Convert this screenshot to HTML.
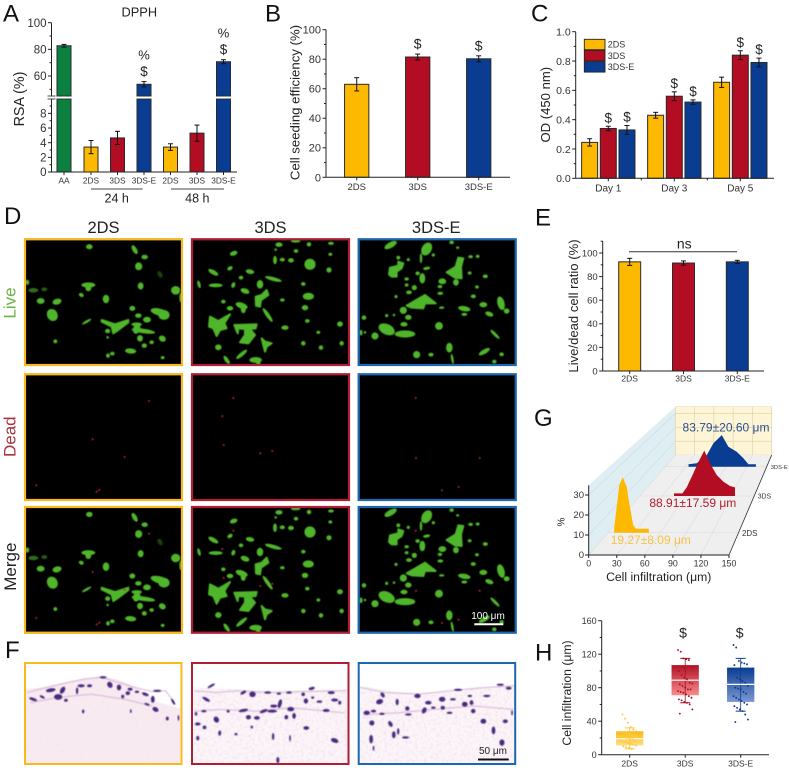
<!DOCTYPE html>
<html lang="en">
<head>
<meta charset="utf-8">
<title>Cell scaffold characterization figure</title>
<style>
html,body{margin:0;padding:0;background:#fff;}
svg{display:block;font-family:"Liberation Sans",Arial,sans-serif;}
text{fill:#222;}
</style>
</head>
<body>
<svg id="root" xmlns="http://www.w3.org/2000/svg" width="789" height="770" viewBox="0 0 789 770">
  <defs>
    <filter id="soft" x="-5%" y="-5%" width="110%" height="110%"><feGaussianBlur stdDeviation="0.45"/></filter>
    <filter id="softLive" x="-5%" y="-5%" width="110%" height="110%"><feGaussianBlur stdDeviation="1.5"/></filter>
    <filter id="softF" x="-5%" y="-5%" width="110%" height="110%"><feGaussianBlur stdDeviation="1.5"/></filter>
    <filter id="speckle" x="0" y="0" width="100%" height="100%">
      <feTurbulence type="fractalNoise" baseFrequency="0.11" numOctaves="2" seed="4" result="n"/>
      <feColorMatrix in="n" type="matrix" values="0 0 0 0 0.92  0 0 0 0 0.80  0 0 0 0 0.88  3.2 0 0 0 -1.45" result="c"/>
      <feComposite in="c" in2="SourceGraphic" operator="in"/>
    </filter>
    <linearGradient id="gradY" x1="0" y1="0" x2="0" y2="1"><stop offset="0" stop-color="#fbb90f"/><stop offset="1" stop-color="#fdde85"/></linearGradient>
    <linearGradient id="gradR" x1="0" y1="0" x2="0" y2="1"><stop offset="0" stop-color="#b01226"/><stop offset="1" stop-color="#f98a8a"/></linearGradient>
    <linearGradient id="gradB" x1="0" y1="0" x2="0" y2="1"><stop offset="0" stop-color="#0a3d91"/><stop offset="1" stop-color="#7c98d2"/></linearGradient>
  </defs>
  <g id="pA"></g>
  <g id="pB"></g>
  <g id="pC"></g>
  <g id="pD"></g>
  <g id="pE"></g>
  <g id="pF"></g>
  <g id="pG"></g>
  <g id="pH"></g>
  <g id="letters"></g>
</svg>
<script>
/* ---------- chart data ---------- */
const aCategories = ['AA','2DS','3DS','3DS-E','2DS','3DS','3DS-E'];
const aValues = [82.7,3.4,4.65,53.8,3.4,5.3,70.7];
const aErrors = [1,0.9,0.9,2,0.45,1.1,1.5];
const aTicks = [0,2,4,6,8,60,80,100];
const aMinorTicks = [1,3,5,7,9,50,70,90];

const bCategories = ['2DS','3DS','3DS-E'];
const bValues = [63,81.5,80.3];
const bErrors = [4.5,2,2];
const bTicks = [0,20,40,60,80,100];
const bMinorTicks = [10,30,50,70,90];

const cCategories = ['Day 1','Day 3','Day 5'];
const cSeries = ['2DS','3DS','3DS-E'];
const c2DS = [0.245,0.43,0.655];
const c3DS = [0.34,0.56,0.84];
const c3DSE = [0.33,0.52,0.79];
const c2DSErr = [0.025,0.02,0.035];
const c3DSErr = [0.015,0.03,0.03];
const c3DSEErr = [0.03,0.015,0.03];
const cTicks = [0,0.2,0.4,0.6,0.8,1];
const cMinorTicks = [0.1,0.3,0.5,0.7,0.9];

const eCategories = ['2DS','3DS','3DS-E'];
const eValues = [92.5,91.5,92.5];
const eErrors = [3,1.8,1.3];
const eTicks = [0,20,40,60,80,100];
const eMinorTicks = [10,30,50,70,90,110];

const gXTicks = [0,30,60,90,120,150];
const gZTicks = [0,10,20,30];
const g2DSBins = [7,7,13,17,21.5,24.5,29,32,47,47];
const g2DSPct = [0,2,23.8,27.7,23,14.7,3.8,2,2,0];
const g3DSBins = [44.8,44.8,55.8,61.5,70.2,76.8,84.6,92,100.8,109.5,118.3,124.8,124.8];
const g3DSPct = [0,1.3,1.3,4.3,11.3,17,22.7,16.3,10.5,7.2,5,4.3,0];
const g3DSEBins = [34.4,34.4,46.7,61.5,71.3,83.6,93.4,105.7,115.5,122.9,134,134];
const g3DSEPct = [0,1.2,1.7,5.8,11.7,15.8,10,7.5,4.2,1.2,1.2,0];

const hCategories = ['2DS','3DS','3DS-E'];
const hQ1 = [11,71,63];
const hMedian = [19,89,84];
const hQ3 = [28,107,104];
const hLow = [7,62,52];
const hHigh = [32,115,115];
const hPoints2DS = [48,43,38,33,30,28,27,26,25,24,23,22,21,20,19,18,17,16,15,14,13,12,11,10,9,8,7];
const hPoints3DS = [125,123,115,114,113,105,100,95,92,90,86,85,84,82,80,78,78,76,75,74,72,70,68,66,65,63,62,60,54,49];
const hPoints3DSE = [131,128,112,110,109,108,107,92,90,88,86,82,80,79,78,75,73,70,68,66,64,62,60,58,56,54,52,48,42,39];
const hTicks = [0,40,80,120,160];
const hMinorTicks = [20,60,100,140];

/* ---------- image sketches (x, y, rx, ry, rotation, opacity) ---------- */
const live2DS = [[268,125,9,7],[404,134,6,14,-30],[434,156,9,6],[416,184,10,11],[422,243,8,10],[527,256,13,12],[542,278,3,14],[82,232,5,7],[100,256,14,6,0,.6],[133,253,8,5,0,.5],[122,288,11,8],[171,290,13,8,-15],[157,330,15,18,-30],[244,270,7,5,30],[265,240,20,7],[265,250,8,8],[318,282,9,12],[260,350,15,3,-30],[397,310,8,7],[415,332,9,6],[441,344,11,8],[480,322,28,10,15],[492,330,16,14],[323,378,7,6],[410,358,15,5],[430,378,35,6,8],[410,372,10,14,20],[420,400,8,9],[487,401,10,8,30],[433,422,7,6],[455,412,6,5],[392,438,16,7,5],[337,446,6,5],[324,452,5,6],[488,458,5,4],[166,409,5,5],[323,397,3,3],[480,208,6,10,-30,.35]];
const live2DSShapes = ['305,345 345,358 385,345 385,352 355,375 340,385 335,365 305,350'];
const live3DS = [[146,55,11,6,-20],[85,112,16,6,30],[135,100,8,5,-30],[195,110,12,6,10],[168,128,6,5],[42,148,4,11,-15],[92,151,20,5],[145,150,5,8,20],[225,148,9,12],[265,132,25,5,15],[180,168,13,7,20],[115,200,6,5],[135,220,9,6],[170,212,18,8,20],[175,222,7,12],[248,240,5,24,-35],[100,337,9,8],[170,358,20,5,-40],[125,375,5,14,-35],[212,375,18,8],[220,383,6,8],[300,278,10,6],[355,325,6,6],[408,338,6,6],[470,325,6,6],[465,267,8,7],[400,292,5,4],[367,258,6,5],[360,218,9,7],[370,184,16,10],[355,147,6,5],[292,195,6,4],[375,88,16,16],[270,75,5,12],[292,74,7,5],[318,76,8,6],[282,29,10,6],[333,48,6,5],[332,18,14,4],[372,28,6,6],[432,105,7,7],[436,58,5,4],[438,25,8,4],[272,44,3,3]];
const live3DSShapes = ['245,165 250,180 228,195 225,215 213,212 212,185 230,180','75,245 100,258 135,238 118,265 125,280 105,285 95,303 85,280 72,275','148,270 215,268 212,280 195,282 210,300 190,325 165,322 180,300 180,282 160,280 158,295','230,310 240,320 260,325 245,335 240,350 235,330'];
const live3DSE = [[617,30,20,8,-30],[725,42,14,20,30],[708,70,3,14],[800,22,6,5],[818,38,4,3],[640,68,5,5],[670,74,4,4],[745,60,4,4],[857,65,6,4],[878,64,5,4],[725,100,10,4,-10],[712,130,8,15],[813,142,8,9],[772,139,11,8],[765,155,6,4],[766,175,8,4],[698,115,6,5],[854,114,5,4],[901,124,7,5],[665,132,6,4],[665,150,5,4],[688,158,7,7],[672,172,8,5],[633,185,4,4],[876,156,5,4],[865,184,7,5],[895,209,11,7],[948,205,10,20,-15],[965,228,8,7],[838,221,18,7,10],[838,238,8,4],[913,237,12,6,20],[655,226,10,10,30],[670,247,9,7],[537,248,6,6],[605,242,4,4],[627,240,3,3],[770,218,7,3],[657,268,10,6],[762,273,11,11],[605,283,25,15,25],[660,297,30,10],[570,303,10,10],[528,293,4,8],[540,292,3,3],[930,298,18,4,45],[898,350,18,6,-30],[950,358,6,5],[695,359,10,10],[738,359,7,5],[793,338,9,14],[802,372,3,15,-10],[928,380,6,5]];
const live3DSEShapes = ['612,118 615,98 640,92 640,80 655,85 650,100 635,110 635,125 620,125','785,112 812,95 820,68 835,70 828,95 830,130 810,128','665,212 720,180 752,205 720,205 715,220 680,218'];
const dead2DS = [[149,36],[92.7,74.3],[124.7,92],[36.3,120.3],[99.3,125],[96.7,126.7]];
const dead3DS = [[233.3,33],[222.3,51.3],[260.3,88.3],[272.3,86],[223.7,80]];
const dead3DSE = [[415.7,33],[416,93],[479.7,93],[442,125.3],[458.7,122]];
const nuclei2DS = [[98,205,12,4,20],[125,198,8,3,30],[150,178,14,5,-10],[185,178,6,11,30],[172,198,12,8],[195,208,5,4],[240,165,10,4],[265,165,7,4],[305,140,10,3],[325,162,7,9,-30],[352,170,6,8],[385,175,7,4],[378,187,6,5],[405,183,6,3],[430,190,10,4,20],[452,205,5,10],[465,180,12,3],[435,220,8,3,20],[460,235,9,6,30],[512,212,3,10,-30],[363,197,4,5],[246,241,3,5],[387,240,2,5],[495,262,4,5],[528,260,2,8],[228,180,3,10]];
const nuclei3DS = [[610,205,12,4,30],[625,165,3,12,60],[720,185,4,9,60],[747,190,9,8],[792,185,10,3],[825,188,6,3],[855,185,8,3],[922,173,9,4,-15],[897,190,5,5],[980,185,10,4],[905,210,6,7],[925,200,4,3],[945,212,8,3],[990,207,10,4],[1005,215,4,5],[828,218,5,13,15],[805,240,14,4],[780,240,12,4,-20],[810,225,10,4],[720,238,14,4,-10],[860,234,10,6],[870,254,5,8],[965,238,10,4],[640,265,7,9,-30],[735,258,7,6],[760,260,8,5],[847,258,5,6],[603,240,7,3],[675,240,4,4],[580,248,3,5],[585,278,8,4],[605,288,5,5],[650,305,4,7],[585,320,4,6],[698,308,4,3],[745,287,3,4],[906,290,8,5],[808,315,3,10],[858,320,2,9],[990,327,11,6,20],[822,385,4,9]];
const nuclei3DSE = [[1123,212,10,7,-20],[1132,192,5,8,-30],[1175,213,4,9],[1235,195,9,6],[1267,215,9,5],[1255,238,6,9,30],[1205,232,6,6],[1208,250,9,3],[1282,230,6,3],[1308,205,9,7],[1340,205,8,3],[1310,230,6,5],[1375,220,8,7],[1395,215,5,7],[1400,240,6,6],[1330,245,8,3],[1390,195,6,3],[1430,270,8,7],[1495,270,7,5],[1460,297,5,11],[1485,333,7,9],[1085,245,9,6],[1105,240,7,4],[1130,248,8,3],[1100,275,7,7],[1155,278,5,9,-30],[1178,300,3,9],[1165,310,5,10],[1200,318,10,3],[1098,323,5,12],[1105,350,2,7],[1440,195,10,3],[1480,162,10,3],[1505,172,8,4],[1355,177,12,3],[1515,245,2,7]];

/* ---------- helpers ---------- */
const NS = 'http://www.w3.org/2000/svg';
const YEL = '#fdb900', RED = '#b20d22', BLU = '#0a3d91', GRN = '#0b8040';
const FRAME = ['#fbb81b', '#b11e33', '#1b68b0'];
const svgEl = document.getElementById('root');
function mk(parent, tag, attrs) {
  const el = document.createElementNS(NS, tag);
  for (const k in attrs) el.setAttribute(k, attrs[k]);
  parent.appendChild(el);
  return el;
}
function tag(el, name) {
  
  
  return el;
}
function label(parent, x, y, str, size, anchor, name, fill, rot) {
  const t = mk(parent, 'text', {x: x, y: y, 'font-size': size, 'text-anchor': anchor || 'middle'});
  if (fill) t.setAttribute('style', 'fill:' + fill);
  if (rot) t.setAttribute('transform', 'rotate(' + rot + ' ' + x + ' ' + y + ')');
  t.textContent = str;
  tag(t, name);
  return t;
}
function line(parent, x1, y1, x2, y2, name, color, w) {
  const l = mk(parent, 'line', {x1: x1, y1: y1, x2: x2, y2: y2, stroke: color || '#222', 'stroke-width': w || 1});
  tag(l, name);
  return l;
}
function yAxis(g, x, yTop, yBase, scale, ticks, minor, size, fmt) {
  line(g, x, yTop, x, yBase, 'y-axis-line');
  ticks.forEach(v => {
    line(g, x - 3.5, scale(v), x, scale(v), 'y-axis-tick');
    label(g, x - 5, scale(v) + size * 0.36, fmt ? fmt(v) : String(v), size, 'end', 'y-tick-label', '#333');
  });
  minor.forEach(v => line(g, x - 2, scale(v), x, scale(v), 'y-axis-minor-tick'));
}
function xAxis(g, xStart, xEnd, y, centers, cats, size, labelY) {
  line(g, xStart, y, xEnd, y, 'x-axis-line');
  centers.forEach((c, i) => {
    line(g, c, y, c, y + 3, 'x-axis-tick');
    label(g, c, labelY, cats[i], size, 'middle', 'x-tick-label', '#333');
  });
}
function bar(g, cx, w, v, err, col, y, yBase, name) {
  const top = y(v);
  const r = mk(g, 'rect', {x: cx - w / 2, y: top, width: w, height: yBase - top, fill: col, stroke: '#2a2a2a', 'stroke-width': 1});
  tag(r, name);
  const a = y(v + err), b = y(v - err);
  line(g, cx, a, cx, b, name + '-error-bar', '#111', 1);
  line(g, cx - 2.5, a, cx + 2.5, a, name + '-error-cap', '#111', 1);
  line(g, cx - 2.5, b, cx + 2.5, b, name + '-error-cap', '#111', 1);
}

/* ---------- panel A ---------- */
const pA = document.getElementById('pA');
const aY = v => v <= 10 ? 172 - v * 7.33 : 76 - (v - 60) * 1.333;
const aX = i => i === 0 ? 64 : 91 + (i - 1) * 26.5;
const aColors = [GRN, YEL, RED, BLU, YEL, RED, BLU];
label(pA, 139.3, 16.7, 'DPPH', 12.8, 'middle', 'chart-title');
label(pA, 24, 99, 'RSA (%)', 14.3, 'middle', 'y-axis-title', '#222', -90);
aValues.forEach((v, i) => bar(pA, aX(i), 14, v, aErrors[i], aColors[i], aY, 172, 'bar-' + aCategories[i].toLowerCase()));
yAxis(pA, 51.5, 22.7, 172, aY, aTicks, aMinorTicks, 11.5);
const aBreak = mk(pA, 'rect', {x: 46, y: 96.4, width: 186, height: 2.4, fill: '#fff'});
tag(aBreak, 'axis-break-gap');
[96, 99].forEach(b => line(pA, 47.5, b, 55.5, b, 'axis-break-mark', '#222', 0.8));
[0, 3, 6].forEach(i => {
  line(pA, aX(i) - 7.5, 96, aX(i) + 7.5, 96, 'bar-break-mark', '#222', 0.8);
  line(pA, aX(i) - 7.5, 99, aX(i) + 7.5, 99, 'bar-break-mark', '#222', 0.8);
});
xAxis(pA, 51.5, 237, 172, aValues.map((v, i) => aX(i)), aCategories, 8.3, 183.3);
line(pA, 91, 189, 142.7, 189, 'group-line-24h', '#444');
line(pA, 171, 189, 224, 189, 'group-line-48h', '#444');
label(pA, 116.7, 202.7, '24 h', 12.5, 'middle', 'group-label-24h');
label(pA, 197.3, 202.7, '48 h', 12.5, 'middle', 'group-label-48h');
[3, 6].forEach(i => {
  const top = aY(aValues[i] + aErrors[i]);
  label(pA, aX(i), top - 5.5, '$', 13.5, 'middle', 'significance-dollar');
  label(pA, aX(i), top - 22, '%', 13, 'middle', 'significance-percent');
});

/* ---------- panel B ---------- */
const pB = document.getElementById('pB');
const bY = v => 177.3 - v * 1.476;
const bX = i => 356.7 + i * 61;
const barColors = [YEL, RED, BLU];
label(pB, 299.3, 102.5, 'Cell seeding efficiency (%)', 13.2, 'middle', 'y-axis-title', '#222', -90);
bValues.forEach((v, i) => bar(pB, bX(i), 24.3, v, bErrors[i], barColors[i], bY, 177.3, 'bar-' + bCategories[i].toLowerCase()));
yAxis(pB, 326, 29.7, 177.3, bY, bTicks, bMinorTicks, 11);
xAxis(pB, 326, 510, 177.3, bValues.map((v, i) => bX(i)), bCategories, 9.5, 190);
[1, 2].forEach(i => label(pB, bX(i), bY(bValues[i] + bErrors[i]) - 5.5, '$', 14, 'middle', 'significance-dollar'));

/* ---------- panel C ---------- */
const pC = document.getElementById('pC');
const cY = v => 178.3 - v * 146.6;
const cGroup = i => 608.3 + i * 66;
const cOff = s => (s - 1) * 18.67;
const cVals = [c2DS, c3DS, c3DSE];
const cErrs = [c2DSErr, c3DSErr, c3DSEErr];
label(pC, 550, 104.7, 'OD (450 nm)', 13.1, 'middle', 'y-axis-title', '#222', -90);
cVals.forEach((vals, s) => vals.forEach((v, i) => {
  bar(pC, cGroup(i) + cOff(s), 16, v, cErrs[s][i], barColors[s], cY, 178.3, 'bar-' + cSeries[s].toLowerCase() + '-day-' + (i * 2 + 1));
  if (s > 0) label(pC, cGroup(i) + cOff(s), cY(v + cErrs[s][i]) - 4, '$', 13.5, 'middle', 'significance-dollar');
}));
yAxis(pC, 575.7, 31.7, 178.3, cY, cTicks, cMinorTicks, 10.5, v => v.toFixed(1));
xAxis(pC, 575.7, 774, 178.3, cCategories.map((c, i) => cGroup(i)), cCategories, 10, 191.7);
[0, 1].forEach(i => line(pC, cGroup(i) + 33, 178.3, cGroup(i) + 33, 180.3, 'x-axis-minor-tick'));
cSeries.forEach((s, i) => {
  const sw = mk(pC, 'rect', {x: 584.3, y: 39.3 + i * 11.2, width: 20.7, height: 10.4, fill: barColors[i], stroke: '#222', 'stroke-width': 0.9});
  tag(sw, 'legend-swatch-' + s.toLowerCase());
  label(pC, 607.7, 47.5 + i * 11.3, s, 9, 'start', 'legend-entry-' + s.toLowerCase(), '#333');
});

/* ---------- panel D ---------- */
const pD = document.getElementById('pD');
const dCols = [24, 191, 357.7];
const dRows = [238.3, 373.3, 506];
const dW = 159, dH = 127.7;
const dNames = ['2DS', '3DS', '3DS-E'];
dNames.forEach((n, i) => label(pD, dCols[i] + dW / 2 - (i === 2 ? 1 : 0), 233, n, 16.5, 'middle', 'column-title-' + n.toLowerCase()));
label(pD, 15.6, 303, 'Live', 17, 'middle', 'row-label-live', '#6cb33f', -90);
label(pD, 15.6, 436.7, 'Dead', 17, 'middle', 'row-label-dead', '#a8323e', -90);
label(pD, 16, 566.7, 'Merge', 17, 'middle', 'row-label-merge', '#222', -90);
const liveSets = [[live2DS, live2DSShapes, 0, 205, 0], [live3DS, live3DSShapes, 185, 235, 0], [live3DSE, live3DSEShapes, 185, 235, 0]];
const deadSets = [dead2DS, dead3DS, dead3DSE];
function drawLive(group, set, dy) {
  const g = mk(group, 'g', {transform: 'translate(' + set[2] + ',' + (set[3] + dy) + ') scale(0.3333)', fill: '#4fb52c', filter: 'url(#softLive)'});
  tag(g, 'live-cells');
  set[0].forEach(b => {
    const e = mk(g, 'ellipse', {cx: b[0], cy: b[1], rx: b[2] + 0.8, ry: b[3] + 0.8, transform: 'rotate(' + (b[4] || 0) + ' ' + b[0] + ' ' + b[1] + ')', opacity: b[5] === undefined ? 1 : b[5]});
    tag(e, 'live-cell');
  });
  set[1].forEach(p => {
    const s = mk(g, 'polygon', {points: p, stroke: '#4fb52c', 'stroke-width': 6, 'stroke-linejoin': 'round'});
    tag(s, 'live-cell-cluster');
  });
}
function drawDead(group, pts, dy) {
  const g = mk(group, 'g', {fill: '#b5254a', filter: 'url(#soft)'});
  tag(g, 'dead-cells');
  pts.forEach(d => {
    const c = mk(g, 'circle', {cx: d[0], cy: d[1] + 365 + dy, r: 1});
    tag(c, 'dead-cell');
  });
}
dRows.forEach((ry, r) => dCols.forEach((cx, c) => {
  const cid = 'clipD' + r + c;
  const cp = mk(svgEl.querySelector('defs'), 'clipPath', {id: cid});
  mk(cp, 'rect', {x: cx, y: ry, width: dW, height: dH});
  const g = mk(pD, 'g', {'clip-path': 'url(#' + cid + ')'});
  tag(g, 'micrograph-' + ['live', 'dead', 'merge'][r] + '-' + dNames[c].toLowerCase());
  const bg = mk(g, 'rect', {x: cx, y: ry, width: dW, height: dH, fill: '#000'});
  tag(bg, 'micrograph-background');
  if (r === 0) drawLive(g, liveSets[c], 0);
  if (r === 1) drawDead(g, deadSets[c], 0);
  if (r === 2) { drawLive(g, liveSets[c], 267.7); drawDead(g, deadSets[c], 132.7); }
  const fr = mk(pD, 'rect', {x: cx + 1, y: ry + 1, width: dW - 2, height: dH - 2, fill: 'none', stroke: FRAME[c], 'stroke-width': 2.2});
  tag(fr, 'micrograph-frame');
}));
line(pD, 474.3, 624.3, 503.3, 624.3, 'scale-bar-100um', '#fff', 2);
label(pD, 488, 619, '100 μm', 10, 'middle', 'scale-bar-label-100um', '#fff');

/* ---------- panel E ---------- */
const pE = document.getElementById('pE');
const eY = v => 371 - v * 1.18;
const eX = i => 629.7 + i * 53.8;
label(pE, 578, 306, 'Live/dead cell ratio (%)', 13.1, 'middle', 'y-axis-title', '#222', -90);
eValues.forEach((v, i) => bar(pE, eX(i), 22, v, eErrors[i], barColors[i], eY, 371, 'bar-' + eCategories[i].toLowerCase()));
yAxis(pE, 602.7, 241, 371, eY, eTicks, eMinorTicks, 9.5);
xAxis(pE, 602.7, 764, 371, eValues.map((v, i) => eX(i)), eCategories, 8.5, 381.7);
line(pE, 629, 251.7, 737, 251.7, 'significance-line', '#333', 1);
label(pE, 684.3, 248.3, 'ns', 14, 'middle', 'significance-ns');

/* ---------- panel F ---------- */
const pF = document.getElementById('pF');
const fCols = [24, 191, 357.7];
const fY = 662, fH = 103, fW = 158.5;
const tissue = [
  '72,175 120,170 170,160 240,145 300,135 360,150 420,180 470,215 533,232 533,395 72,395',
  '573,170 700,175 800,180 900,178 1032,175 1032,395 573,395',
  '1062,165 1200,185 1300,185 1400,170 1528,162 1528,395 1062,395'];
const tissueFill = ['#f8ebf0', '#fbf5f8', '#fbf5f8'];
const strands = [
  '80,185 130,172 200,155 250,145 300,140 350,155 400,170 450,182 490,180 520,220',
  '575,180 640,185 700,180 800,185 900,182 1025,180',
  '1065,170 1140,185 1240,190 1330,180 1440,170 1525,165',
  '575,240 650,235 760,240 860,230 1020,245',
  '1075,250 1180,245 1280,235 1400,225 1520,235',
  '90,215 170,200 270,190 370,205 450,225'];
const nucleiSets = [nuclei2DS, nuclei3DS, nuclei3DSE];
const fGroup = mk(pF, 'g', {transform: 'translate(0,630) scale(0.338)'});
tag(fGroup, 'histology-contents');
tissue.forEach((p, i) => {
  const t = mk(fGroup, 'polygon', {points: p, fill: tissueFill[i]});
  tag(t, 'tissue-region');
  const sp = mk(fGroup, 'polygon', {points: p, fill: '#000', filter: 'url(#speckle)'});
  tag(sp, 'tissue-texture');
});
const fBlur = mk(fGroup, 'g', {filter: 'url(#softF)'});
tag(fBlur, 'histology-cells');
strands.forEach(p => {
  const s = mk(fBlur, 'polyline', {points: p, fill: 'none', stroke: '#d8b4d6', 'stroke-width': 3});
  tag(s, 'tissue-strand');
});
nucleiSets.forEach(set => set.forEach(n => {
  const e = mk(fBlur, 'ellipse', {cx: n[0], cy: n[1], rx: n[2] + 0.5, ry: n[3] + 0.5, fill: '#4a2c80', transform: 'rotate(' + (n[4] || 0) + ' ' + n[0] + ' ' + n[1] + ')'});
  tag(e, 'cell-nucleus');
}));
fCols.forEach((x, i) => {
  const fr = mk(pF, 'rect', {x: x + 1, y: fY + 1, width: fW - 2, height: fH - 2, fill: 'none', stroke: FRAME[i], 'stroke-width': 2});
  tag(fr, 'histology-frame-' + dNames[i].toLowerCase());
});
line(pF, 478, 759.5, 508.7, 759.5, 'scale-bar-50um', '#111', 2);
label(pF, 493, 754, '50 μm', 10, 'middle', 'scale-bar-label-50um');

/* ---------- panel G ---------- */
const pG = document.getElementById('pG');
const gLeft = d => 588.7 + 86.6 * d;
const gRight = d => 729 + 42.7 * d;
const gX = (v, d) => gLeft(d) + (gRight(d) - gLeft(d)) * v / 150;
const gY = (d, p) => 555 - 100 * d - p * 2;
const gDepths = [0.223, 0.59, 0.883];
const side = mk(pG, 'polygon', {points: '588.7,555 588.7,485.3 675.3,406.7 675.3,455', fill: '#dfeef2'});
tag(side, 'side-wall');
const back = mk(pG, 'rect', {x: 675.3, y: 406.7, width: 96.4, height: 48.3, fill: '#fdf5d5', stroke: '#ddd6b0', 'stroke-width': 0.5});
tag(back, 'back-wall');
const floorP = mk(pG, 'polygon', {points: '588.7,555 729,555 771.7,455 675.3,455', fill: '#efefef'});
tag(floorP, 'floor-plane');
gXTicks.forEach(v => {
  line(pG, gX(v, 0), 555, gX(v, 1), 455, 'floor-grid-line', '#dcdcdc', 0.6);
  line(pG, gX(v, 1), 455, gX(v, 1), 406.7, 'back-wall-grid-line', '#d8d0a8', 0.6);
});
gDepths.forEach(d => line(pG, gLeft(d), gY(d, 0), gRight(d), gY(d, 0), 'floor-grid-line', '#dcdcdc', 0.6));
gZTicks.slice(1).forEach(p => {
  line(pG, 588.7, 555 - p * 2, 675.3, 455 - p * 1.38, 'side-wall-grid-line', '#c8dde3', 0.6);
  line(pG, 675.3, 455 - p * 1.38, 771.7, 455 - p * 1.38, 'back-wall-grid-line', '#d8d0a8', 0.6);
});
const gSeries = [
  {bins: g3DSEBins, pct: g3DSEPct, d: gDepths[2], col: BLU, name: '3ds-e'},
  {bins: g3DSBins, pct: g3DSPct, d: gDepths[1], col: RED, name: '3ds'},
  {bins: g2DSBins, pct: g2DSPct, d: gDepths[0], col: YEL, name: '2ds'}];
gSeries.forEach(s => {
  const pts = s.bins.map((v, i) => gX(v, s.d).toFixed(1) + ',' + gY(s.d, s.pct[i]).toFixed(1)).join(' ');
  const poly = mk(pG, 'polygon', {points: pts, fill: s.col});
  tag(poly, 'distribution-' + s.name);
});
label(pG, 726, 431.7, '83.79±20.60 μm', 12, 'middle', 'value-label-3ds-e', '#2b4f8f');
label(pG, 692.8, 507, '88.91±17.59 μm', 12, 'middle', 'value-label-3ds', '#b01c2e');
label(pG, 650.8, 544, '19.27±8.09 μm', 12, 'middle', 'value-label-2ds', '#f6c145');
line(pG, 588.7, 485.3, 588.7, 555, 'z-axis-line');
line(pG, 588.7, 555, 729, 555, 'x-axis-line');
line(pG, 729, 555, 771.7, 455, 'depth-axis-line', '#333', 0.8);
gZTicks.forEach(p => {
  line(pG, 585, 555 - p * 2, 588.7, 555 - p * 2, 'z-axis-tick');
  label(pG, 584, 558 - p * 2, String(p), 9.5, 'end', 'z-tick-label', '#333');
});
gXTicks.forEach(v => {
  line(pG, gX(v, 0), 555, gX(v, 0), 558, 'x-axis-tick');
  label(pG, gX(v, 0), 566.7, String(v), 8.8, 'middle', 'x-tick-label', '#333');
});
label(pG, 658.7, 581, 'Cell infiltration (μm)', 12.2, 'middle', 'x-axis-title');
label(pG, 564.5, 522, '%', 10, 'middle', 'z-axis-title', '#222', -90);
[['2DS', 742, 536, 7.9], ['3DS', 757.7, 498.5, 6.9], ['3DS-E', 770.7, 469, 5.8]].forEach(d => {
  label(pG, d[1], d[2], d[0], d[3], 'start', 'depth-tick-label', '#333');
});

/* ---------- panel H ---------- */
const pH = document.getElementById('pH');
const hY = v => 754.7 - v * 0.8375;
const hX = i => 629.7 + i * 55.5;
const hGrad = ['url(#gradY)', 'url(#gradR)', 'url(#gradB)'];
const hCols = ['#fbc83a', '#a80f25', '#0c3b8e'];
const hPoints = [hPoints2DS, hPoints3DS, hPoints3DSE];
label(pH, 571, 693, 'Cell infiltration (μm)', 12.2, 'middle', 'y-axis-title', '#222', -90);
hCategories.forEach((n, i) => {
  const cx = hX(i), w = 27.3;
  const box = mk(pH, 'rect', {x: cx - w / 2, y: hY(hQ3[i]), width: w, height: hY(hQ1[i]) - hY(hQ3[i]), fill: hGrad[i]});
  tag(box, 'box-' + n.toLowerCase());
  line(pH, cx, hY(hHigh[i]), cx, hY(hLow[i]), 'whisker-' + n.toLowerCase(), hCols[i], 0.8);
  [hHigh[i], hLow[i]].forEach(v => line(pH, cx - 5, hY(v), cx + 5, hY(v), 'whisker-cap-' + n.toLowerCase(), hCols[i], 1));
  line(pH, cx - w / 2, hY(hMedian[i]), cx + w / 2, hY(hMedian[i]), 'median-' + n.toLowerCase(), '#fff', 1.2);
  hPoints[i].forEach((v, k) => {
    const c = mk(pH, 'circle', {cx: cx + ((k * 37) % 17 - 8) * 0.9, cy: hY(v), r: 0.95, fill: hCols[i]});
    tag(c, 'point-' + n.toLowerCase());
  });
});
yAxis(pH, 601.7, 620.7, 754.7, hY, hTicks, hMinorTicks, 9);
xAxis(pH, 601.7, 769, 754.7, hCategories.map((n, i) => hX(i)), hCategories, 8.5, 766.7);
label(pH, 683, 637.7, '$', 14, 'middle', 'significance-dollar');
label(pH, 739.7, 637.7, '$', 14, 'middle', 'significance-dollar');

/* ---------- panel letters ---------- */
const letters = document.getElementById('letters');
[['A', 3, 21.7], ['B', 265, 21.7], ['C', 531, 21.7], ['D', 4, 224], ['E', 535, 225.7], ['F', 5, 658], ['G', 534, 426], ['H', 535, 660.7]].forEach(l => {
  label(letters, l[1], l[2], l[0], 24, 'start', 'panel-letter-' + l[0].toLowerCase(), '#111');
});
</script>
</body>
</html>
